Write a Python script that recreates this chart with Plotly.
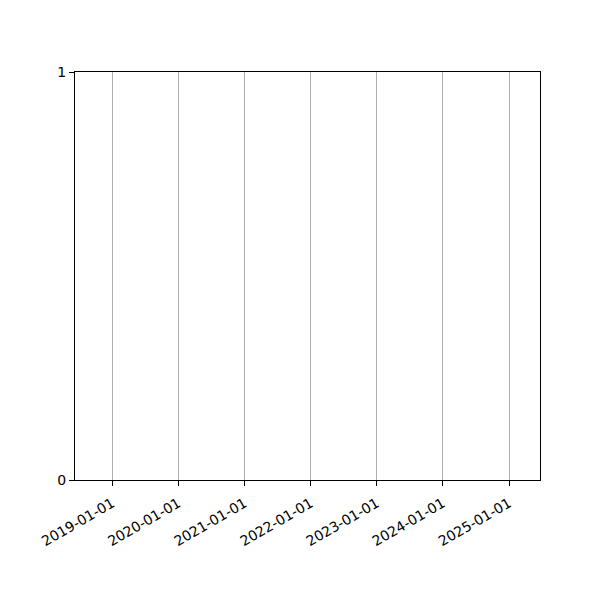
import plotly.graph_objects as go

# the chart has no data points, only the axes
dates = []
values = []

x_range = ["2018-06-09", "2025-06-21"]
x_ticks = ["2019-01-01", "2020-01-01", "2021-01-01", "2022-01-01",
           "2023-01-01", "2024-01-01", "2025-01-01"]
y_ticks = [0, 1]

fig = go.Figure()
fig.add_trace(go.Scatter(x=dates, y=values, mode="lines",
                         line=dict(color="#1f77b4"), showlegend=False))

fig.update_layout(
    width=600, height=600,
    margin=dict(l=67, r=68, t=64, b=128),
    plot_bgcolor="white", paper_bgcolor="white",
    font=dict(family="DejaVu Sans", size=14, color="black"),
    xaxis=dict(
        type="date", range=x_range,
        tickmode="array", tickvals=x_ticks, ticktext=x_ticks,
        tickangle=-30, ticklabelstandoff=4,
        showgrid=True, gridcolor="#b0b0b0", gridwidth=1,
        showline=True, linecolor="black", linewidth=1, mirror=True,
        ticks="outside", ticklen=5, tickcolor="black",
        zeroline=False,
    ),
    yaxis=dict(
        range=[0, 1],
        tickmode="array", tickvals=y_ticks,
        showgrid=False,
        showline=True, linecolor="black", linewidth=1, mirror=True,
        ticks="outside", ticklen=5, tickcolor="black",
        zeroline=False,
    ),
)

fig.write_html("out.html")
